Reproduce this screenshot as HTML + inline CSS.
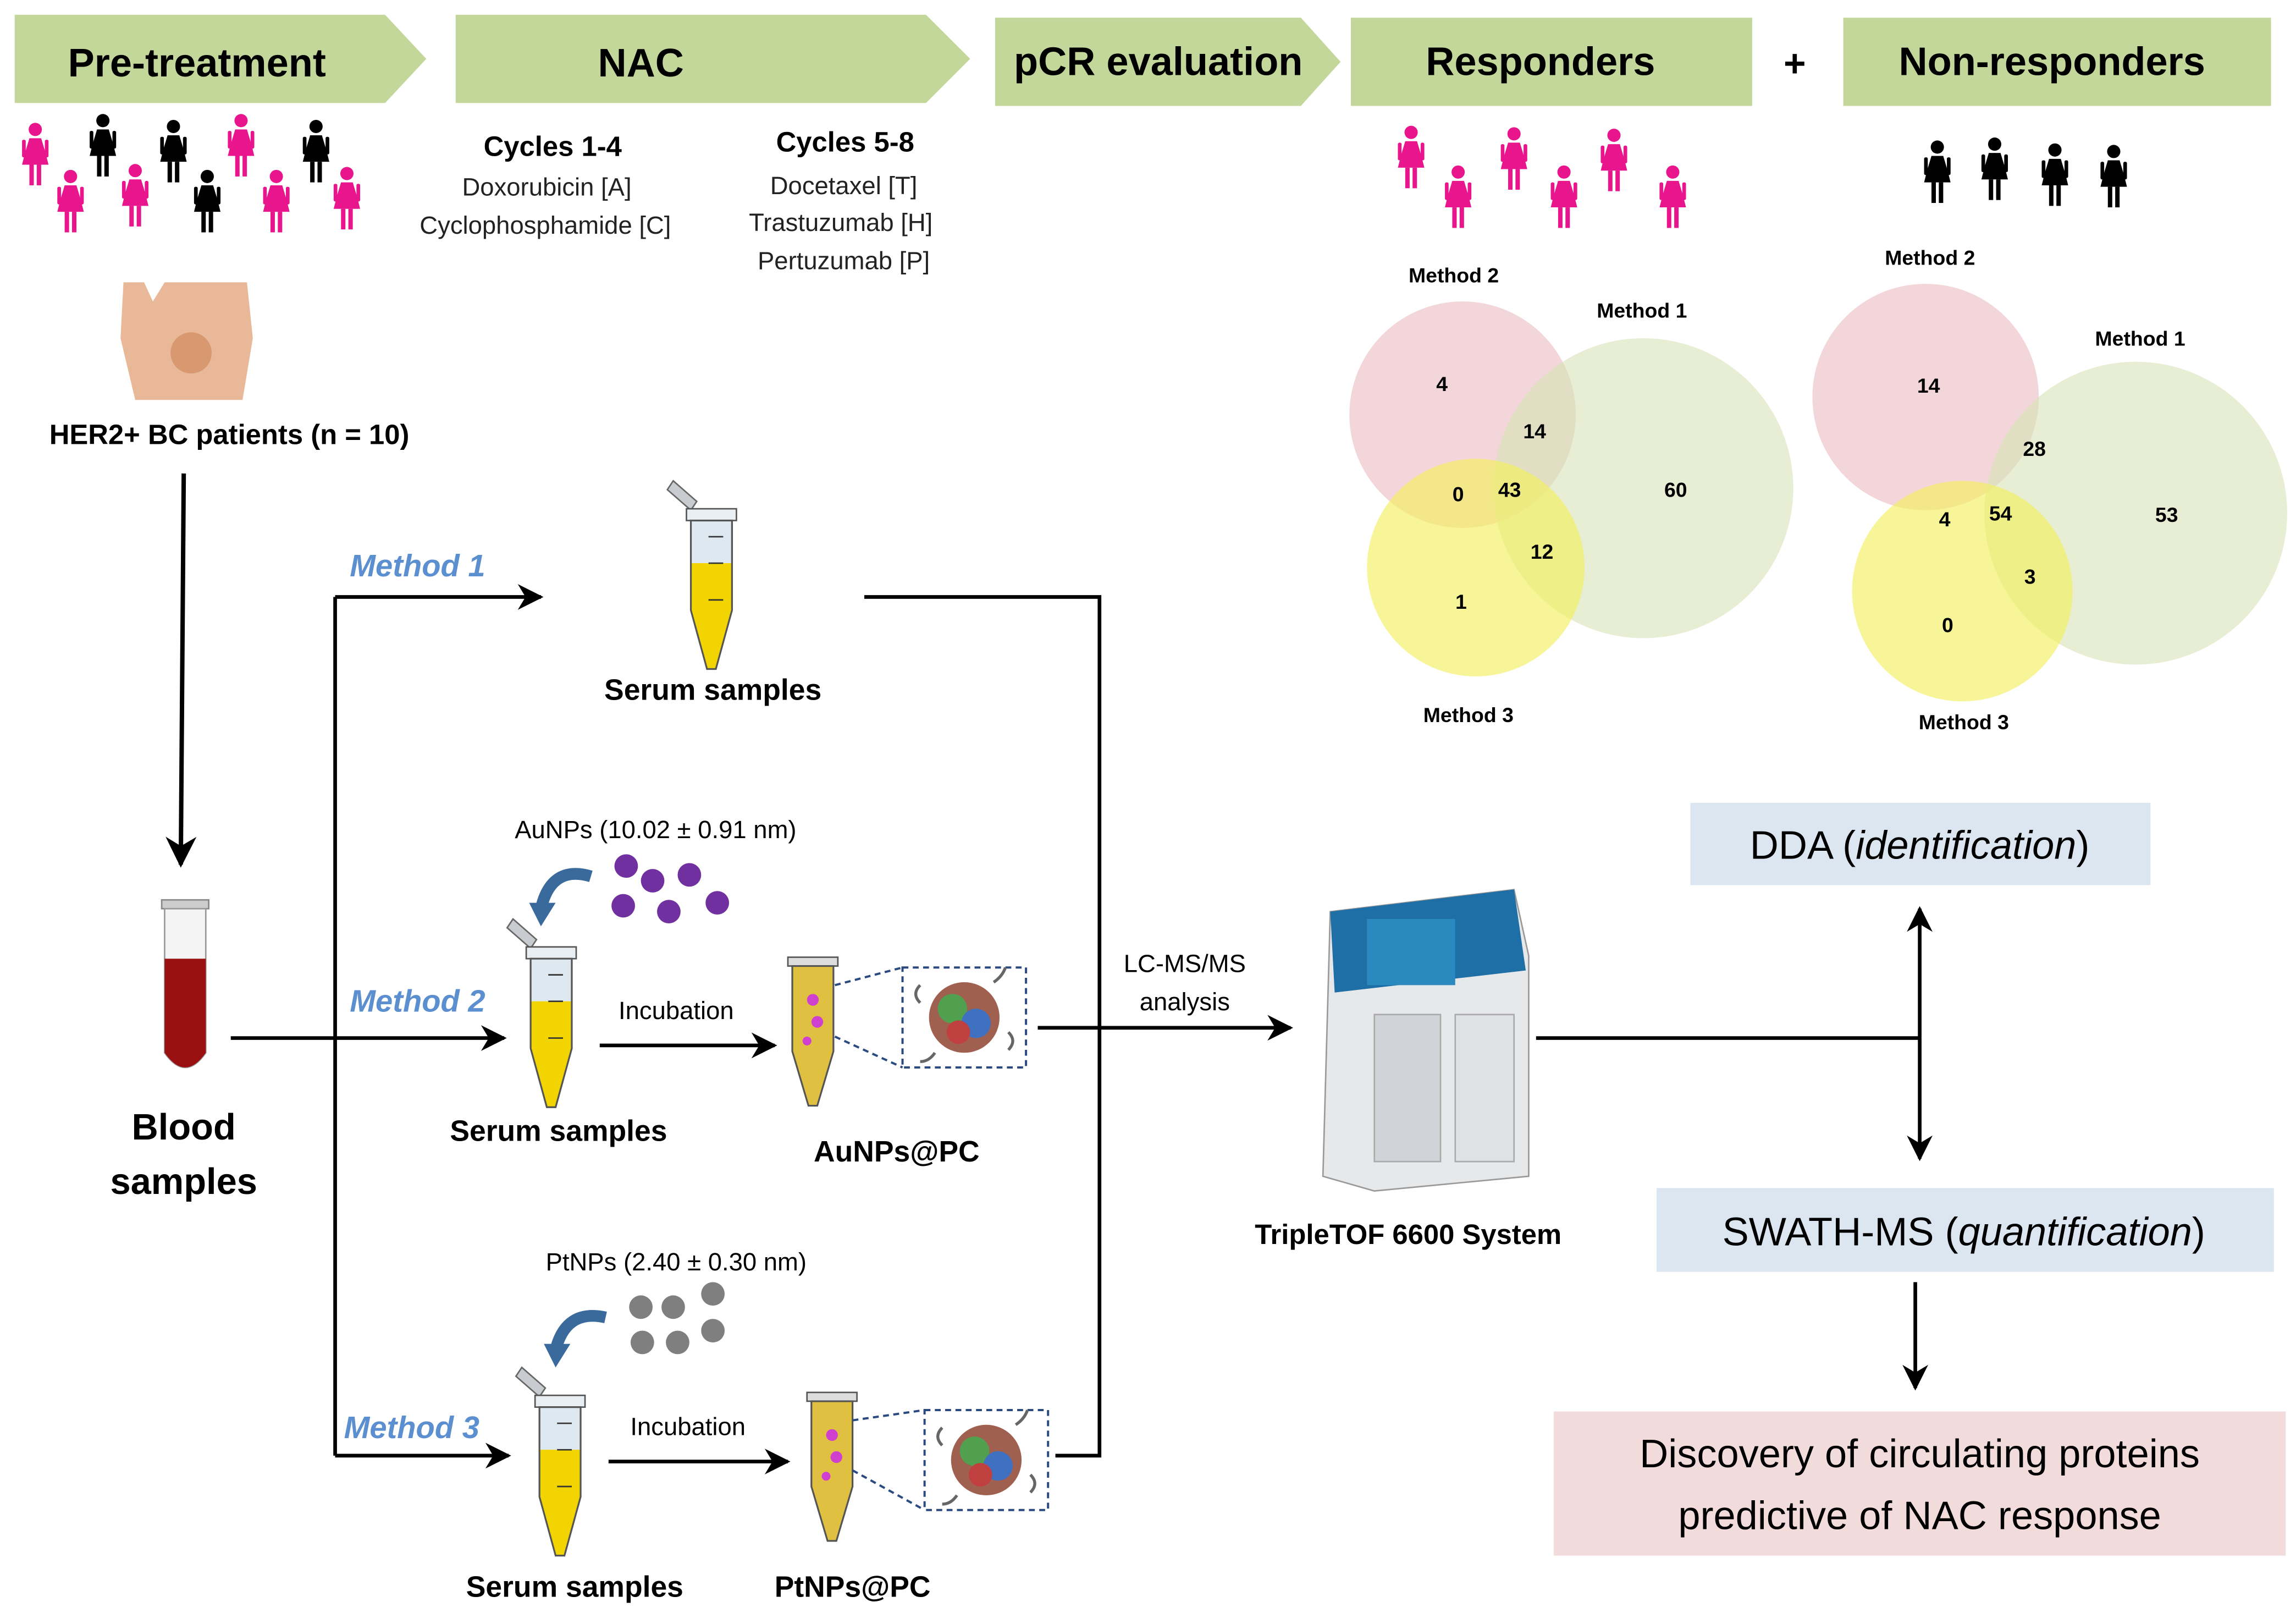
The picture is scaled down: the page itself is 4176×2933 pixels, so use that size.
<!DOCTYPE html>
<html><head><meta charset="utf-8"><style>
html,body{margin:0;padding:0;background:#fff;}
svg{display:block;}
text{font-family:"Liberation Sans",sans-serif;}
</style></head><body>
<svg width="4176" height="2933" viewBox="0 0 1562 1097" xmlns="http://www.w3.org/2000/svg">
<defs>
<g id="w">
<circle cx="0" cy="-14" r="4.5"/>
<path d="M-4,-8 L4,-8 L7,2 L9,10 L-9,10 L-7,2 Z"/>
<rect x="-9" y="-7" width="2.5" height="12" rx="1"/>
<rect x="6.5" y="-7" width="2.5" height="12" rx="1"/>
<rect x="-4" y="10" width="3" height="14"/>
<rect x="1" y="10" width="3" height="14"/>
</g>
<g id="tube">
<path d="M-14,-28 L-30,-42 L-26,-48 L-10,-34 Z" fill="#c8ccd0" stroke="#666" stroke-width="1"/>
<rect x="-17" y="-29" width="34" height="8" fill="#e8eef2" stroke="#555" stroke-width="1"/>
<path d="M-14,-21 L14,-21 L14,40 L3,80 L-3,80 L-14,40 Z" fill="#dde8f0" stroke="#555" stroke-width="1"/>
<path d="M-14,8 L14,8 L14,40 L3,80 L-3,80 L-14,40 Z" fill="#f2d400"/>
<path d="M-14,-21 L14,-21 L14,40 L3,80 L-3,80 L-14,40 Z" fill="none" stroke="#555" stroke-width="1.2"/>
<line x1="-2" y1="-10" x2="8" y2="-10" stroke="#333"/>
<line x1="-2" y1="8" x2="8" y2="8" stroke="#333"/>
<line x1="-2" y1="33" x2="8" y2="33" stroke="#333"/>
</g>
<g id="tubeNP">
<rect x="-17" y="-29" width="34" height="6" fill="#ddd" stroke="#555"/>
<path d="M-14,-23 L14,-23 L14,35 L3,72 L-3,72 L-14,35 Z" fill="#e0c040" stroke="#555" stroke-width="1.2"/>
<circle cx="0" cy="0" r="4" fill="#d040d0"/><circle cx="3" cy="15" r="4" fill="#d040d0"/><circle cx="-4" cy="28" r="3" fill="#d040d0"/>
</g>
<g id="np">
<rect x="-42" y="-34" width="84" height="68" fill="#fff" stroke="#2a4a80" stroke-width="1.5" stroke-dasharray="4,3"/>
<circle cx="0" cy="0" r="24" fill="#a06050"/>
<circle cx="-8" cy="-6" r="10" fill="#50a050"/><circle cx="8" cy="4" r="10" fill="#4070c0"/><circle cx="-4" cy="10" r="8" fill="#c04040"/>
<path d="M-30,-10 q-6,-6 0,-12 M30,10 q6,6 0,12 M-20,24 q-4,6 -10,6 M20,-24 q6,-4 8,-10" stroke="#666" fill="none" stroke-width="2"/>
</g>
<marker id="ar" viewBox="0 0 10 10" refX="9" refY="5" markerWidth="7" markerHeight="7" orient="auto-start-reverse"><path d="M0,0 L10,5 L0,10 L3,5 Z" fill="#000"/></marker>
</defs>

<path d="M10,10 L262,10 L290,40 L262,70 L10,70 Z" fill="#c4d79b"/>
<text x="134" y="52" font-size="27" font-weight="bold" text-anchor="middle">Pre-treatment</text>
<path d="M310,10 L630,10 L660,40 L630,70 L310,70 Z" fill="#c4d79b"/>
<text x="436" y="52" font-size="27" font-weight="bold" text-anchor="middle">NAC</text>
<path d="M677,12 L885,12 L912,42 L885,72 L677,72 Z" fill="#c4d79b"/>
<text x="788" y="51" font-size="27" font-weight="bold" text-anchor="middle">pCR evaluation</text>
<rect x="919" y="12" width="273" height="60" fill="#c4d79b"/>
<text x="1048" y="51" font-size="27" font-weight="bold" text-anchor="middle">Responders</text>
<text x="1221" y="52" font-size="26" font-weight="bold" text-anchor="middle">+</text>
<rect x="1254" y="12" width="291" height="60" fill="#c4d79b"/>
<text x="1396" y="51" font-size="27" font-weight="bold" text-anchor="middle">Non-responders</text>

<g fill="#e8158c"><use href="#w" x="24" y="102"/><use href="#w" x="48" y="134"/><use href="#w" x="92" y="130"/><use href="#w" x="164" y="96"/><use href="#w" x="188" y="134"/><use href="#w" x="236" y="132"/></g>
<g fill="#000"><use href="#w" x="70" y="96"/><use href="#w" x="118" y="100"/><use href="#w" x="141" y="134"/><use href="#w" x="215" y="100"/></g>
<g fill="#e8158c"><use href="#w" x="960" y="104"/><use href="#w" x="992" y="131"/><use href="#w" x="1030" y="105"/><use href="#w" x="1064" y="131"/><use href="#w" x="1098" y="106"/><use href="#w" x="1138" y="131"/></g>
<g fill="#000"><use href="#w" x="1318" y="114"/><use href="#w" x="1357" y="112"/><use href="#w" x="1398" y="116"/><use href="#w" x="1438" y="117"/></g>

<text x="376" y="106" font-size="19" font-weight="bold" text-anchor="middle">Cycles 1-4</text>
<text x="372" y="133" font-size="17" text-anchor="middle" fill="#222">Doxorubicin [A]</text>
<text x="371" y="159" font-size="17" text-anchor="middle" fill="#222">Cyclophosphamide [C]</text>
<text x="575" y="103" font-size="19" font-weight="bold" text-anchor="middle">Cycles 5-8</text>
<text x="574" y="132" font-size="17" text-anchor="middle" fill="#222">Docetaxel [T]</text>
<text x="572" y="157" font-size="17" text-anchor="middle" fill="#222">Trastuzumab [H]</text>
<text x="574" y="183" font-size="17" text-anchor="middle" fill="#222">Pertuzumab [P]</text>

<path d="M84,192 L98,192 L104,205 L112,192 L168,192 L172,230 L165,272 L92,272 L82,230 Z" fill="#e8b898"/>
<circle cx="130" cy="240" r="14" fill="#d89870"/>
<text x="156" y="302" font-size="19" font-weight="bold" text-anchor="middle">HER2+ BC patients (n = 10)</text>

<circle cx="995" cy="282" r="77" fill="#e8b4bc" fill-opacity="0.55"/>
<circle cx="1118" cy="332" r="102" fill="#d7e3b5" fill-opacity="0.6"/>
<circle cx="1004" cy="386" r="74" fill="#f2f060" fill-opacity="0.65"/>
<circle cx="1310" cy="270" r="77" fill="#e8b4bc" fill-opacity="0.55"/>
<circle cx="1453" cy="349" r="103" fill="#d7e3b5" fill-opacity="0.6"/>
<circle cx="1335" cy="402" r="75" fill="#f2f060" fill-opacity="0.65"/>
<g font-size="14" font-weight="bold" text-anchor="middle">
<text x="989" y="192">Method 2</text><text x="1117" y="216">Method 1</text><text x="999" y="491">Method 3</text>
<text x="1313" y="180">Method 2</text><text x="1456" y="235">Method 1</text><text x="1336" y="496">Method 3</text>
<text x="981" y="266">4</text><text x="1044" y="298">14</text><text x="992" y="341">0</text><text x="1027" y="338">43</text>
<text x="1140" y="338">60</text><text x="1049" y="380">12</text><text x="994" y="414">1</text>
<text x="1312" y="267">14</text><text x="1384" y="310">28</text><text x="1323" y="358">4</text><text x="1361" y="354">54</text>
<text x="1474" y="355">53</text><text x="1381" y="397">3</text><text x="1325" y="430">0</text>
</g>

<line x1="125" y1="322" x2="123" y2="588" stroke="#000" stroke-width="3" marker-end="url(#ar)"/>
<rect x="110" y="612" width="32" height="6" fill="#ccc" stroke="#888"/>
<path d="M112,618 L140,618 L140,716 Q126,736 112,716 Z" fill="#f4f4f4" stroke="#999"/>
<path d="M112,652 L140,652 L140,716 Q126,736 112,716 Z" fill="#9a1010"/>
<text x="125" y="775" font-size="25" font-weight="bold" text-anchor="middle">Blood</text>
<text x="125" y="812" font-size="25" font-weight="bold" text-anchor="middle">samples</text>

<g stroke="#000" stroke-width="2.5" fill="none">
<line x1="157" y1="706" x2="228" y2="706"/>
<line x1="228" y1="406" x2="228" y2="990"/>
<line x1="228" y1="406" x2="368" y2="406" marker-end="url(#ar)"/>
<line x1="228" y1="706" x2="343" y2="706" marker-end="url(#ar)"/>
<line x1="228" y1="990" x2="346" y2="990" marker-end="url(#ar)"/>
<line x1="408" y1="711" x2="527" y2="711" marker-end="url(#ar)"/>
<line x1="414" y1="994" x2="536" y2="994" marker-end="url(#ar)"/>
<polyline points="588,406 748,406 748,990 718,990"/>
<line x1="706" y1="699" x2="878" y2="699" marker-end="url(#ar)"/>
<line x1="1045" y1="706" x2="1306" y2="706"/>
<line x1="1306" y1="706" x2="1306" y2="618" marker-end="url(#ar)"/>
<line x1="1306" y1="706" x2="1306" y2="788" marker-end="url(#ar)"/>
<line x1="1303" y1="872" x2="1303" y2="944" marker-end="url(#ar)"/>
</g>
<g font-size="21" font-weight="bold" font-style="italic" fill="#5b8fd0">
<text x="238" y="392">Method 1</text><text x="238" y="688">Method 2</text><text x="234" y="978">Method 3</text>
</g>

<use href="#tube" x="484" y="375"/>
<text x="485" y="476" font-size="20" font-weight="bold" text-anchor="middle">Serum samples</text>
<use href="#tube" x="375" y="673"/>
<text x="380" y="776" font-size="20" font-weight="bold" text-anchor="middle">Serum samples</text>
<use href="#tube" x="381" y="978"/>
<text x="391" y="1086" font-size="20" font-weight="bold" text-anchor="middle">Serum samples</text>

<text x="446" y="570" font-size="17" text-anchor="middle">AuNPs (10.02 ± 0.91 nm)</text>
<g fill="#7030a0"><circle cx="426" cy="589" r="8"/><circle cx="444" cy="599" r="8"/><circle cx="469" cy="595" r="8"/><circle cx="424" cy="616" r="8"/><circle cx="455" cy="620" r="8"/><circle cx="488" cy="614" r="8"/></g>
<path d="M402,596 Q375,588 368,618" stroke="#3a6a9c" stroke-width="8" fill="none"/>
<path d="M360,614 L378,614 L368,630 Z" fill="#3a6a9c"/>
<text x="460" y="693" font-size="17" text-anchor="middle">Incubation</text>
<use href="#tubeNP" x="553" y="680"/>
<use href="#np" x="656" y="692"/>
<line x1="568" y1="670" x2="614" y2="658" stroke="#2a4a80" stroke-dasharray="4,3" stroke-width="1.5"/>
<line x1="568" y1="705" x2="614" y2="726" stroke="#2a4a80" stroke-dasharray="4,3" stroke-width="1.5"/>
<text x="610" y="790" font-size="20" font-weight="bold" text-anchor="middle">AuNPs@PC</text>

<text x="460" y="864" font-size="17" text-anchor="middle">PtNPs (2.40 ± 0.30 nm)</text>
<g fill="#7f7f7f"><circle cx="436" cy="889" r="8"/><circle cx="458" cy="889" r="8"/><circle cx="485" cy="880" r="8"/><circle cx="437" cy="913" r="8"/><circle cx="461" cy="913" r="8"/><circle cx="485" cy="905" r="8"/></g>
<path d="M412,896 Q385,890 378,918" stroke="#3a6a9c" stroke-width="8" fill="none"/>
<path d="M370,914 L388,914 L378,930 Z" fill="#3a6a9c"/>
<text x="468" y="976" font-size="17" text-anchor="middle">Incubation</text>
<use href="#tubeNP" x="566" y="976"/>
<use href="#np" x="671" y="993"/>
<line x1="580" y1="966" x2="629" y2="959" stroke="#2a4a80" stroke-dasharray="4,3" stroke-width="1.5"/>
<line x1="580" y1="1000" x2="629" y2="1027" stroke="#2a4a80" stroke-dasharray="4,3" stroke-width="1.5"/>
<text x="580" y="1086" font-size="20" font-weight="bold" text-anchor="middle">PtNPs@PC</text>

<text x="806" y="661" font-size="17" text-anchor="middle">LC-MS/MS</text>
<text x="806" y="687" font-size="17" text-anchor="middle">analysis</text>

<path d="M905,620 L1030,605 L1040,650 L1040,800 L935,810 L900,800 Z" fill="#e6e8ea" stroke="#999"/>
<path d="M905,620 L1030,605 L1038,660 L908,675 Z" fill="#1e6fa6"/>
<rect x="930" y="625" width="60" height="45" fill="#2a8ac0"/>
<rect x="935" y="690" width="45" height="100" fill="#d0d4d8" stroke="#aaa"/>
<rect x="990" y="690" width="40" height="100" fill="#dfe2e5" stroke="#aaa"/>
<text x="958" y="846" font-size="19" font-weight="bold" text-anchor="middle">TripleTOF 6600 System</text>

<rect x="1150" y="546" width="313" height="56" fill="#dce6f1"/>
<text x="1306" y="584" font-size="27" text-anchor="middle">DDA (<tspan font-style="italic">identification</tspan>)</text>
<rect x="1127" y="808" width="420" height="57" fill="#dce6f1"/>
<text x="1336" y="847" font-size="27" text-anchor="middle">SWATH-MS (<tspan font-style="italic">quantification</tspan>)</text>
<rect x="1057" y="960" width="498" height="98" fill="#f2dcdb"/>
<text x="1306" y="998" font-size="27" text-anchor="middle">Discovery of circulating proteins</text>
<text x="1306" y="1040" font-size="27" text-anchor="middle">predictive of NAC response</text>
</svg>
</body></html>
